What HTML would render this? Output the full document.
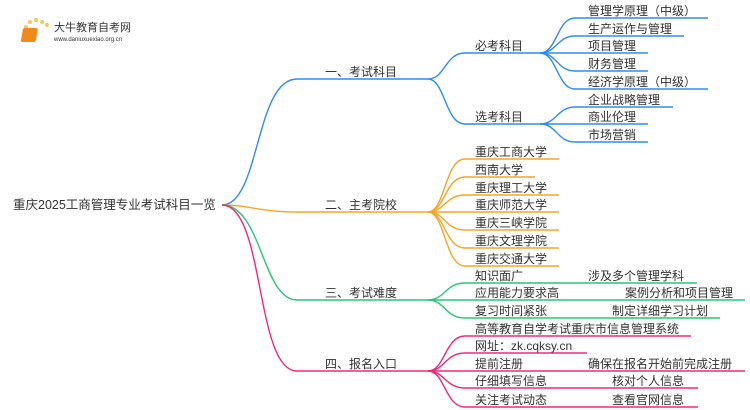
<!DOCTYPE html>
<html><head><meta charset="utf-8"><style>
html,body{margin:0;padding:0;background:#fff;}
svg{display:block;}
text{font-family:"Liberation Sans","Noto Sans CJK SC",sans-serif;fill:#333;}
</style></head><body>
<svg width="750" height="410" viewBox="0 0 750 410" xmlns="http://www.w3.org/2000/svg">
<!-- logo -->
<g>
<circle cx="26" cy="27" r="2" fill="#f8c95a"/><circle cx="30" cy="22" r="2" fill="#f8c95a"/><circle cx="36" cy="20" r="2" fill="#f8c95a"/><circle cx="42" cy="22" r="2" fill="#f8c95a"/><circle cx="47" cy="25" r="2" fill="#f8c95a"/>
<rect x="28" y="28" width="15" height="14" rx="2" fill="#f08a1c" transform="skewX(-10)"/>
<text x="54" y="31" font-size="11" fill="#444">大牛教育自考网</text>
<text x="54" y="41" font-size="6" fill="#777">www.daniuxuexiao.org.cn</text>
</g>
<text x="13" y="209" font-size="12.5">重庆2025工商管理专业考试科目一览</text>
<g fill="none" stroke-width="1.4">
<!-- blue -->
<g stroke="#2f8cf5">
<path d="M222,205 C260,205 255,79 297,79 L428,79"/>
<path d="M428,79 C445,79 445,53 465,53 L540,53"/>
<path d="M428,79 C445,79 445,124 465,124 L540,124"/>
<path d="M540,53 C557,53 557,18 575,18 L708,18"/>
<path d="M540,53 C557,53 557,36 575,36 L684,36"/>
<path d="M540,53 L648,53"/>
<path d="M540,53 C557,53 557,71 575,71 L648,71"/>
<path d="M540,53 C557,53 557,89 575,89 L708,89"/>
<path d="M540,124 C557,124 557,107 575,107 L673,107"/>
<path d="M540,124 L648,124"/>
<path d="M540,124 C557,124 557,142 575,142 L648,142"/>
</g>
<!-- orange -->
<g stroke="#f5a623">
<path d="M222,205 C250,205 260,212 297,212 L428,212"/>
<path d="M428,212 C445,212 445,159 465,159 L559,159"/>
<path d="M428,212 C445,212 445,177 465,177 L535,177"/>
<path d="M428,212 C445,212 445,195 465,195 L559,195"/>
<path d="M428,212 L559,212"/>
<path d="M428,212 C445,212 445,230 465,230 L559,230"/>
<path d="M428,212 C445,212 445,248 465,248 L559,248"/>
<path d="M428,212 C445,212 445,266 465,266 L559,266"/>
</g>
<!-- green -->
<g stroke="#27c77a">
<path d="M222,205 C262,205 262,300 297,300 L428,300"/>
<path d="M428,300 C445,300 445,283 465,283 L697,283"/>
<path d="M428,300 L745,300"/>
<path d="M428,300 C445,300 445,318 465,318 L720,318"/>
</g>
<!-- pink -->
<g stroke="#f5267a">
<path d="M222,205 C265,205 255,371 297,371 L428,371"/>
<path d="M428,371 C445,371 445,336 465,336 L691,336"/>
<path d="M428,371 C445,371 445,353 465,353 L587,353"/>
<path d="M428,371 L745,371"/>
<path d="M428,371 C445,371 445,388 465,388 L698,388"/>
<path d="M428,371 C445,371 445,407 465,407 L698,407"/>
</g>
</g>
<g font-size="12">
<text x="325" y="76">一、考试科目</text>
<text x="475" y="50">必考科目</text>
<text x="475" y="121">选考科目</text>
<text x="588" y="15">管理学原理（中级）</text>
<text x="588" y="33">生产运作与管理</text>
<text x="588" y="50">项目管理</text>
<text x="588" y="68">财务管理</text>
<text x="588" y="86">经济学原理（中级）</text>
<text x="588" y="104">企业战略管理</text>
<text x="588" y="121">商业伦理</text>
<text x="588" y="139">市场营销</text>
<text x="325" y="209">二、主考院校</text>
<text x="475" y="156">重庆工商大学</text>
<text x="475" y="174">西南大学</text>
<text x="475" y="192">重庆理工大学</text>
<text x="475" y="209">重庆师范大学</text>
<text x="475" y="227">重庆三峡学院</text>
<text x="475" y="245">重庆文理学院</text>
<text x="475" y="263">重庆交通大学</text>
<text x="325" y="297">三、考试难度</text>
<text x="475" y="280">知识面广</text>
<text x="588" y="280">涉及多个管理学科</text>
<text x="475" y="297">应用能力要求高</text>
<text x="625" y="297">案例分析和项目管理</text>
<text x="475" y="315">复习时间紧张</text>
<text x="612" y="315">制定详细学习计划</text>
<text x="325" y="368">四、报名入口</text>
<text x="475" y="333">高等教育自学考试重庆市信息管理系统</text>
<text x="475" y="350">网址：zk.cqksy.cn</text>
<text x="475" y="368">提前注册</text>
<text x="588" y="368">确保在报名开始前完成注册</text>
<text x="475" y="385">仔细填写信息</text>
<text x="612" y="385">核对个人信息</text>
<text x="475" y="404">关注考试动态</text>
<text x="612" y="404">查看官网信息</text>
</g>
</svg>
</body></html>
